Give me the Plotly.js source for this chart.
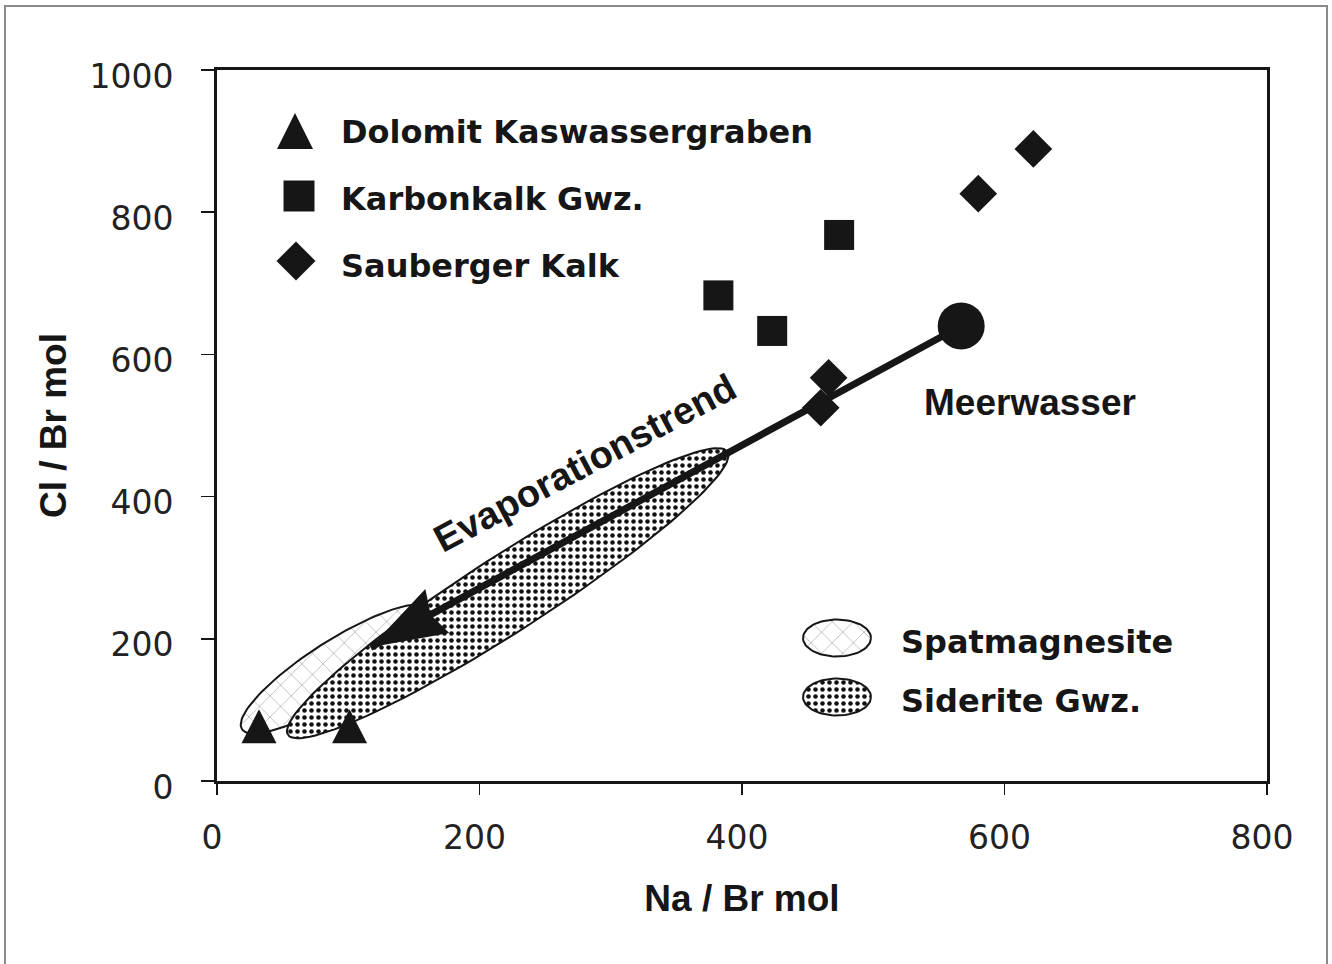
<!DOCTYPE html>
<html><head><meta charset="utf-8">
<script src="https://cdn.plot.ly/plotly-3.0.1.min.js"></script>
<style>body{margin:0;background:#fff}</style>
</head><body><div id="chart" style="width:1332px;height:964px"></div>
<script>
// ---- data ----
const dolomitX = [32, 101];
const dolomitY = [77, 77];
const karbonX = [382, 423, 474];
const karbonY = [683, 633, 768];
const saubergerX = [622, 580, 466, 460];
const saubergerY = [889, 826, 567, 525];
const meerwasserX = [567];
const meerwasserY = [640];
const trendEndX = [117];
const trendEndY = [188];
// fields: ends of the long axis of each ellipse (data units)
const spatX = [19, 162];
const spatY = [73, 242];
const sideriteX = [54, 389];
const sideriteY = [65, 463];
const xTickVals = [0, 200, 400, 600, 800];
const yTickVals = [0, 200, 400, 600, 800, 1000];
const legendLabels = ['Dolomit Kaswassergraben', 'Karbonkalk Gwz.', 'Sauberger Kalk'];
const fieldLabels = ['Spatmagnesite', 'Siderite Gwz.'];

// ---- layout constants ----
const W = 1332, H = 964;
const M = {l: 217, r: 65, t: 70, b: 183};
const PW = W - M.l - M.r, PH = H - M.t - M.b;
const XR = [0, 800], YR = [0, 1000];
const sx = PW / (XR[1] - XR[0]), sy = PH / (YR[1] - YR[0]);
const INK = '#161616';
const boldArial = {family: 'Liberation Sans, Arial, sans-serif', size: 37, color: INK, weight: 'bold'};
const boldTrend = {family: 'Liberation Sans, Arial, sans-serif', size: 38, color: INK, weight: 'bold'};
const boldWide = {family: 'DejaVu Sans, sans-serif', size: 32, color: INK, weight: 'bold'};

function ellipseData(ex, ey, bpx) {
  const p1 = [ex[0] * sx, ey[0] * sy], p2 = [ex[1] * sx, ey[1] * sy];
  const c = [(p1[0] + p2[0]) / 2, (p1[1] + p2[1]) / 2];
  const dx = p2[0] - p1[0], dy = p2[1] - p1[1];
  const a = Math.hypot(dx, dy) / 2;
  const u = [dx / (2 * a), dy / (2 * a)], n = [-u[1], u[0]];
  const xs = [], ys = [];
  for (let i = 0; i <= 120; i++) {
    const t = 2 * Math.PI * i / 120;
    const px = c[0] + a * Math.cos(t) * u[0] + bpx * Math.sin(t) * n[0];
    const py = c[1] + a * Math.cos(t) * u[1] + bpx * Math.sin(t) * n[1];
    xs.push(px / sx); ys.push(py / sy);
  }
  return {x: xs, y: ys};
}
function ellipsePx(cx, cy, ax, by) {
  const xs = [], ys = [];
  for (let i = 0; i <= 80; i++) {
    const t = 2 * Math.PI * i / 80;
    xs.push(cx + ax * Math.cos(t)); ys.push(cy + by * Math.sin(t));
  }
  return {x: xs, y: ys};
}

const spatPattern = {shape: 'x', size: 15, solidity: 0.05, fgcolor: '#333', bgcolor: '#fff', fgopacity: 0.8};
const sidPattern = {shape: '.', size: 7, solidity: 0.33, fgcolor: '#111', bgcolor: '#fff'};

const spatE = ellipseData(spatX, spatY, 28);
const sidE = ellipseData(sideriteX, sideriteY, 38);

const traces = [];
traces.push({x: spatE.x, y: spatE.y, mode: 'lines', fill: 'toself', fillcolor: '#fff',
  fillpattern: spatPattern, line: {color: INK, width: 2}, hoverinfo: 'skip'});
traces.push({x: sidE.x, y: sidE.y, mode: 'lines', fill: 'toself', fillcolor: '#fff',
  fillpattern: sidPattern, line: {color: INK, width: 2}, hoverinfo: 'skip'});
traces.push({x: [meerwasserX[0], trendEndX[0]], y: [meerwasserY[0], trendEndY[0]], mode: 'lines',
  line: {color: INK, width: 7}, hoverinfo: 'skip'});
traces.push({x: karbonX, y: karbonY, mode: 'markers', name: legendLabels[1],
  marker: {symbol: 'square', size: 30, color: INK, line: {width: 0}}});
traces.push({x: saubergerX, y: saubergerY, mode: 'markers', name: legendLabels[2],
  marker: {symbol: 'diamond', size: 29, color: INK, line: {width: 0}}});
traces.push({x: meerwasserX, y: meerwasserY, mode: 'markers', name: 'Meerwasser',
  marker: {symbol: 'circle', size: 47, color: INK, line: {width: 0}}});

// legend symbols on an overlay axis measured in page pixels
const lgSq = {x: [299], y: [196]}, lgDi = {x: [296], y: [261]};
traces.push({x: lgSq.x, y: lgSq.y, xaxis: 'x2', yaxis: 'y2', mode: 'markers',
  marker: {symbol: 'square', size: 31, color: INK}, hoverinfo: 'skip'});
traces.push({x: lgDi.x, y: lgDi.y, xaxis: 'x2', yaxis: 'y2', mode: 'markers',
  marker: {symbol: 'diamond', size: 30, color: INK}, hoverinfo: 'skip'});
const ic1 = ellipsePx(837, 638, 34, 18.5), ic2 = ellipsePx(837, 697, 34, 18.5);
traces.push({x: ic1.x, y: ic1.y, xaxis: 'x2', yaxis: 'y2', mode: 'lines', fill: 'toself', fillcolor: '#fff',
  fillpattern: spatPattern, line: {color: INK, width: 2}, hoverinfo: 'skip'});
traces.push({x: ic2.x, y: ic2.y, xaxis: 'x2', yaxis: 'y2', mode: 'lines', fill: 'toself', fillcolor: '#fff',
  fillpattern: sidPattern, line: {color: INK, width: 2}, hoverinfo: 'skip'});

// triangles (taller than plotly's built-in symbol) as pixel-sized shapes anchored at data
const triPath = 'M-17.5,-17 L17.5,-17 L0,17 Z';
const shapes = [];
dolomitX.forEach((x, i) => {
  shapes.push({type: 'path', xref: 'x', yref: 'y', xsizemode: 'pixel', ysizemode: 'pixel',
    xanchor: x, yanchor: dolomitY[i], path: triPath, fillcolor: INK, line: {width: 0}, layer: 'above'});
});
shapes.push({type: 'path', xref: 'x2', yref: 'y2', xsizemode: 'pixel', ysizemode: 'pixel',
  xanchor: 295, yanchor: 131, path: 'M-18,-18 L18,-18 L0,18 Z', fillcolor: INK, line: {width: 0}, layer: 'above'});

// arrow head at the end of the evaporation trend
(function () {
  const dx = (trendEndX[0] - meerwasserX[0]) * sx, dy = (trendEndY[0] - meerwasserY[0]) * sy;
  const L = Math.hypot(dx, dy), u = [dx / L, dy / L], n = [-u[1], u[0]];
  const len = 76, hw = 25;
  const b1 = [-u[0] * len + n[0] * hw, -u[1] * len + n[1] * hw];
  const b2 = [-u[0] * len - n[0] * hw, -u[1] * len - n[1] * hw];
  const nb = [-u[0] * len * 0.9, -u[1] * len * 0.9];
  const f = v => v.toFixed(2);
  shapes.push({type: 'path', xref: 'x', yref: 'y', xsizemode: 'pixel', ysizemode: 'pixel',
    xanchor: trendEndX[0], yanchor: trendEndY[0],
    path: `M0,0 L${f(b1[0])},${f(b1[1])} L${f(nb[0])},${f(nb[1])} L${f(b2[0])},${f(b2[1])} Z`,
    fillcolor: INK, line: {width: 0}, layer: 'above'});
})();

// outer frame of the figure
shapes.push({type: 'rect', xref: 'paper', yref: 'paper',
  x0: (5 - M.l) / PW, x1: (1327 - M.l) / PW, y0: (M.t + PH - 990) / PH, y1: (M.t + PH - 6) / PH,
  line: {color: '#8a8a8a', width: 2}, fillcolor: 'rgba(0,0,0,0)', layer: 'below'});

const annotations = [];
const lgY = [132, 199, 266];
legendLabels.forEach((t, i) => annotations.push({xref: 'x2', yref: 'y2', x: 339, y: lgY[i], text: t,
  showarrow: false, xanchor: 'left', yanchor: 'middle', font: boldWide}));
const fY = [642, 701];
fieldLabels.forEach((t, i) => annotations.push({xref: 'x2', yref: 'y2', x: 899, y: fY[i], text: t,
  showarrow: false, xanchor: 'left', yanchor: 'middle', font: boldWide}));
annotations.push({xref: 'x2', yref: 'y2', x: 1030, y: 402, text: 'Meerwasser', showarrow: false,
  xanchor: 'center', yanchor: 'middle', font: boldArial});
annotations.push({xref: 'x2', yref: 'y2', x: 585, y: 463, text: 'Evaporationstrend', showarrow: false,
  xanchor: 'center', yanchor: 'middle', textangle: -28, font: boldTrend});

const tickFont = {family: 'DejaVu Sans, sans-serif', size: 33, color: '#222'};
const layout = {
  width: W, height: H, margin: M, paper_bgcolor: '#fff', plot_bgcolor: '#fff', showlegend: false,
  xaxis: {range: XR, tickvals: xTickVals, ticks: 'outside', ticklen: 11, tickwidth: 1.5, tickcolor: INK,
    showline: true, linewidth: 3, linecolor: INK, mirror: true, showgrid: false, zeroline: false,
    tickfont: tickFont, ticklabelstandoff: 14, ticklabelshift: -5,
    title: {text: 'Na / Br mol', font: boldArial, standoff: 30}},
  yaxis: {range: YR, tickvals: yTickVals, ticks: 'outside', ticklen: 13, tickwidth: 1.5, tickcolor: INK,
    showline: true, linewidth: 3, linecolor: INK, mirror: true, showgrid: false, zeroline: false,
    tickfont: tickFont, ticklabelstandoff: 21, ticklabelshift: 6,
    title: {text: 'Cl / Br mol', font: boldArial, standoff: 12}},
  xaxis2: {overlaying: 'x', range: [M.l, M.l + PW], visible: false, fixedrange: true},
  yaxis2: {overlaying: 'y', range: [M.t + PH, M.t], visible: false, fixedrange: true},
  shapes: shapes, annotations: annotations
};
Plotly.newPlot('chart', traces, layout, {displayModeBar: false, staticPlot: true});
</script></body></html>
